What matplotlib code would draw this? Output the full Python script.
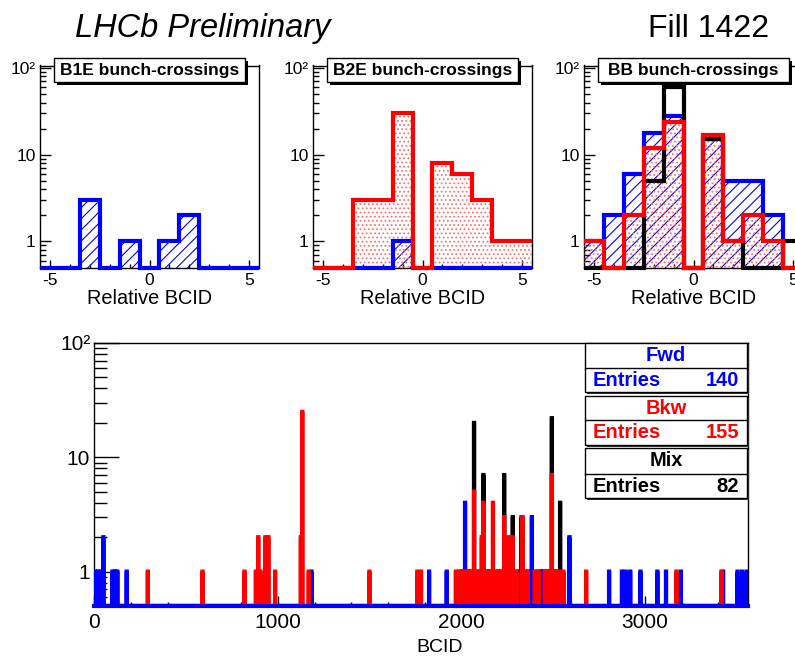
import numpy as np
import matplotlib
matplotlib.use("Agg")
import matplotlib.pyplot as plt
from matplotlib.patches import Rectangle
from matplotlib.lines import Line2D
from matplotlib.ticker import FixedLocator, FixedFormatter, LogLocator, NullFormatter, MultipleLocator

plt.rcParams['font.family'] = ['Liberation Sans', 'DejaVu Sans']
plt.rcParams['hatch.linewidth'] = 0.8
plt.rcParams['axes.unicode_minus'] = False

W, H = 795, 658

# relative BCID bins -5..5
rel_bins = [-5, -4, -3, -2, -1, 0, 1, 2, 3, 4, 5]

b1e_fwd = [0, 0, 3, 0, 1, 0, 1, 2, 0, 0, 0]

b2e_fwd = [0, 0, 0, 0, 1, 0, 0, 0, 0, 0, 0]
b2e_bkw = [0, 0, 3, 3, 30, 0, 8, 6, 3, 1, 1]

bb_fwd = [1, 2, 6, 18, 28, 0, 15, 5, 5, 2, 0]
bb_bkw = [1, 0, 2, 12, 24, 0, 17, 1, 2, 1, 0]
bb_mix = [0, 0, 0, 5, 60, 0, 15, 1, 0, 0, 1]

# full orbit, BCID and counts
fwd_bcid = [5, 20, 35, 49, 98, 112, 125, 176, 1183, 1824, 1920, 2020, 2060, 2096,
            2146, 2160, 2215, 2260, 2305, 2320, 2328, 2370, 2384, 2410, 2430, 2440,
            2465, 2510, 2520, 2589, 2805, 2875, 2895, 2920, 2976, 3068, 3115, 3196,
            3426, 3505, 3530, 3555]
fwd_count = [1, 1, 1, 2, 1, 1, 1, 1, 1, 1, 1, 4, 1, 1,
             1, 1, 1, 1, 1, 1, 3, 1, 3, 1, 1, 1,
             1, 1, 1, 2, 1, 1, 1, 1, 1, 1, 1, 1,
             1, 1, 1, 1]

bkw_bcid = [291, 589, 818, 880, 893, 905, 932, 948, 985, 1125, 1133, 1168, 1499,
            1760, 1780, 1970, 1988, 2000, 2010, 2030, 2040, 2050, 2069, 2090, 2111,
            2120, 2140, 2150, 2172, 2190, 2200, 2210, 2233, 2245, 2256, 2265, 2280,
            2300, 2333, 2350, 2360, 2400, 2420, 2455, 2470, 2480, 2493, 2505, 2515,
            2538, 2556, 2680, 3172, 3417]
bkw_count = [1, 1, 1, 1, 2, 1, 2, 2, 1, 2, 25, 1, 1,
             1, 1, 1, 1, 1, 1, 1, 1, 1, 5, 1, 2,
             4, 1, 1, 4, 1, 1, 1, 3, 1, 2, 1, 2,
             1, 3, 1, 1, 1, 1, 1, 1, 1, 7, 1, 1,
             1, 1, 1, 1, 1]

mix_bcid = [2069, 2120, 2233, 2280, 2447, 2493, 2538]
mix_count = [20, 7, 7, 3, 1, 22, 4]

entries = {'Fwd': 140, 'Bkw': 155, 'Mix': 82}

BLUE = '#0000ff'
RED = '#ff0000'
YMIN = 0.5


def px_axes(l, t, r, b):
    return [l / W, 1 - b / H, (r - l) / W, (b - t) / H]


def px_box(l, t, r, b, **kw):
    # rectangle given in picture pixels (top-left origin)
    return Rectangle((l / W, 1 - b / H), (r - l) / W, (b - t) / H,
                     transform=fig.transFigure, **kw)


def floor(vals):
    v = np.asarray(vals, dtype=float)
    return np.where(v > 0, v, YMIN)


def style_log_y(ax, size, major_len, minor_len):
    ax.set_yscale('log')
    ax.yaxis.set_major_locator(FixedLocator([1, 10, 100]))
    ax.yaxis.set_major_formatter(FixedFormatter(['1', '10', '10²']))
    ax.yaxis.set_minor_locator(LogLocator(base=10, subs=np.arange(2, 10)))
    ax.yaxis.set_minor_formatter(NullFormatter())
    ax.tick_params(axis='y', which='major', direction='in', length=major_len,
                   width=1, labelsize=size, pad=3, right=False)
    ax.tick_params(axis='y', which='minor', direction='in', length=minor_len,
                   width=1, right=False)


fig = plt.figure(figsize=(W / 100, H / 100), dpi=100)

edges = np.arange(-5.5, 6.0, 1.0)


def small_panel(left, title, fwd=None, bkw=None, mix=None):
    ax = fig.add_axes(px_axes(left, 65.5, left + 219, 267.5))
    ax.set_xlim(-5.5, 5.5)
    ax.set_ylim(YMIN, 107)
    style_log_y(ax, 12.5, 8, 4)
    ax.xaxis.set_major_locator(FixedLocator([-5, 0, 5]))
    ax.xaxis.set_minor_locator(MultipleLocator(1))
    ax.tick_params(axis='x', which='major', direction='in', length=6, width=1,
                   labelsize=12.5, pad=4, top=False)
    ax.tick_params(axis='x', which='minor', direction='in', length=3, width=1, top=False)
    for s in ax.spines.values():
        s.set_linewidth(1.0)

    if fwd is not None:
        ax.stairs(floor(fwd), edges, baseline=YMIN, fill=True, facecolor='none',
                  edgecolor=BLUE, hatch='///', linewidth=0, zorder=2)
    if bkw is not None:
        ax.stairs(floor(bkw), edges, baseline=YMIN, fill=True, facecolor='none',
                  edgecolor='#ff7070', hatch='....', linewidth=0, zorder=3)
    if fwd is not None:
        ax.stairs(floor(fwd), edges, baseline=None, color=BLUE, linewidth=3,
                  zorder=4, clip_on=False)
    if mix is not None:
        ax.stairs(floor(mix), edges, baseline=None, color='black', linewidth=3,
                  zorder=5, clip_on=False)
    if bkw is not None:
        ax.stairs(floor(bkw), edges, baseline=None, color=RED, linewidth=3,
                  zorder=6, clip_on=False)

    # title box with shadow
    cx = left + 109.5
    fig.add_artist(px_box(cx - 95.5 + 3, 58 + 3, cx + 95.5 + 3, 82 + 3,
                          fc='black', ec='none', zorder=30))
    fig.add_artist(px_box(cx - 95.5, 58, cx + 95.5, 82,
                          fc='white', ec='black', lw=1, zorder=31))
    fig.text(cx / W, 1 - 70.5 / H, title, ha='center', va='center',
             fontsize=12.5, fontweight='bold', zorder=32)
    fig.text(cx / W, 1 - 304 / H, 'Relative BCID', ha='center',
             va='baseline', fontsize=14.3)
    return ax


small_panel(40, 'B1E bunch-crossings', fwd=b1e_fwd)
small_panel(313, 'B2E bunch-crossings', fwd=b2e_fwd, bkw=b2e_bkw)
small_panel(584, 'BB bunch-crossings', fwd=bb_fwd, bkw=bb_bkw, mix=bb_mix)

# full orbit panel
ax = fig.add_axes(px_axes(94.3, 343, 748.3, 606))
ax.set_xlim(0, 3564)
ax.set_ylim(YMIN, 100)
style_log_y(ax, 15, 18, 9)
ax.xaxis.set_major_locator(FixedLocator([0, 1000, 2000, 3000]))
ax.xaxis.set_minor_locator(MultipleLocator(200))
ax.tick_params(axis='x', which='major', direction='in', length=7, width=1,
               labelsize=15, pad=5, top=False)
ax.tick_params(axis='x', which='minor', direction='in', length=3, width=1, top=False)
for s in ax.spines.values():
    s.set_linewidth(1.0)

nb = 3564
orbit_edges = np.arange(nb + 1)


def orbit_hist(bcid, count):
    h = np.zeros(nb)
    for b, c in zip(bcid, count):
        h[b] += c
    return np.where(h > 0, h, YMIN)


ax.stairs(orbit_hist(mix_bcid, mix_count), orbit_edges, baseline=None,
          color='black', linewidth=3, zorder=2)
ax.stairs(orbit_hist(fwd_bcid, fwd_count), orbit_edges, baseline=None,
          color=BLUE, linewidth=3, zorder=3)
ax.stairs(orbit_hist(bkw_bcid, bkw_count), orbit_edges, baseline=None,
          color=RED, linewidth=3, zorder=4)
ax.add_line(Line2D([0, nb], [YMIN, YMIN], color=BLUE, linewidth=3, zorder=5,
                   clip_on=False))

fig.text(440 / W, 1 - 652 / H, 'BCID', ha='center', va='baseline', fontsize=14)

# stats boxes
boxes = [('Fwd', BLUE, 343, 368, 392), ('Bkw', RED, 396, 420, 445),
         ('Mix', 'black', 448, 474, 498)]
for name, col, top, mid, bot in boxes:
    fig.add_artist(px_box(587, top + 2, 749, bot + 2, fc='#333333', ec='none', zorder=20))
    fig.add_artist(px_box(585, top, 747, bot, fc='white', ec='black', lw=1, zorder=21))
    fig.add_artist(Line2D([585 / W, 747 / W], [1 - mid / H, 1 - mid / H],
                          transform=fig.transFigure, color='black', lw=1, zorder=22))
    fig.text(666 / W, 1 - (top + mid) / 2 / H, name, ha='center', va='center',
             fontsize=14.5, fontweight='bold', color=col, zorder=23)
    fig.text(593 / W, 1 - (mid + bot) / 2 / H, 'Entries', ha='left', va='center',
             fontsize=14.5, fontweight='bold', color=col, zorder=23)
    fig.text(739 / W, 1 - (mid + bot) / 2 / H, str(entries[name]), ha='right', va='center',
             fontsize=14.5, fontweight='bold', color=col, zorder=23)

fig.text(75 / W, 1 - 37 / H, 'LHCb Preliminary', ha='left', va='baseline',
         fontsize=23.5, style='italic')
fig.text(648 / W, 1 - 37 / H, 'Fill 1422', ha='left', va='baseline', fontsize=23)

fig.savefig('out.png', dpi=100)
